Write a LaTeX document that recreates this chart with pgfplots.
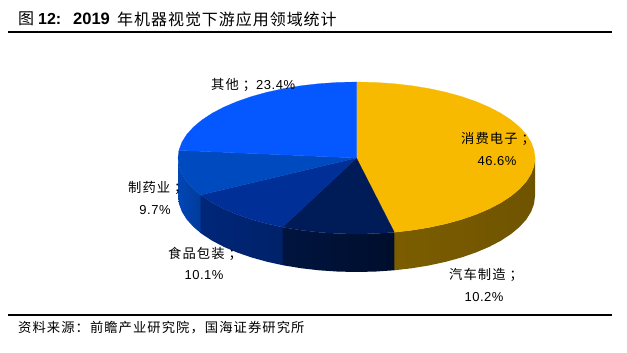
\documentclass[border=0pt]{standalone}
\usepackage{pgfplots}
\pgfplotsset{compat=1.18}
\usepackage{fontspec}
\setmainfont{Liberation Sans}
\newfontfamily\cjk[LetterSpace=8]{Noto Sans CJK SC}
\newfontfamily\cjkt[LetterSpace=6]{Noto Sans CJK SC}
\newfontfamily\lat[LetterSpace=4]{Liberation Sans}
\definecolor{cYel}{HTML}{F7BA00}
\definecolor{cNavy}{HTML}{001C58}
\definecolor{cDark}{HTML}{003097}
\definecolor{cMid}{HTML}{004AC0}
\definecolor{cBlue}{HTML}{0558FF}
\newcommand{\lab}[1]{{\fontsize{13.3}{15}\selectfont\cjk #1}}
\newcommand{\num}[1]{{\fontsize{13}{15}\selectfont\lat #1}}
\newcommand{\fsc}{\hspace{4pt}^^^^ff1b}
\newcommand{\fcl}{^^^^ff1a}
\newcommand{\fcm}{^^^^ff0c}
\begin{document}
\begin{tikzpicture}[x=1pt,y=1pt]
\path[use as bounding box,fill=white] (0,0) rectangle (627,353);
\begin{axis}[
  at={(0pt,0pt)},anchor=south west,scale only axis,width=627pt,height=353pt,
  xmin=-1.9972,xmax=1.5154,ymin=-2.5658,ymax=2.0789,hide axis,clip=false]
% side walls
\addplot[draw=none,left color=cYel!50!black,middle color=cYel!40!black,right color=cYel!45!black] coordinates {
(1,0)(.9945,-.1045)(.9781,-.2079)(.9511,-.309)(.9135,-.4067)(.866,-.5)(.809,-.5878)(.7431,-.6691)(.6691,-.7431)(.5878,-.809)(.5,-.866)(.4067,-.9135)(.309,-.9511)(.212,-.9773)
(.212,-1.4773)(.309,-1.4511)(.4067,-1.4135)(.5,-1.366)(.5878,-1.309)(.6691,-1.2431)(.7431,-1.1691)(.809,-1.0878)(.866,-1)(.9135,-.9067)(.9511,-.809)(.9781,-.7079)(.9945,-.6045)(1,-.5)} --cycle;
\addplot[draw=none,left color=cNavy!72!black,middle color=cNavy!58!black,right color=cNavy!50!black] coordinates {
(.212,-.9773)(.2079,-.9781)(.1045,-.9945)(0,-1)(-.1045,-.9945)(-.2079,-.9781)(-.309,-.9511)(-.4067,-.9135)(-.4144,-.9101)
(-.4144,-1.4101)(-.4067,-1.4135)(-.309,-1.4511)(-.2079,-1.4781)(-.1045,-1.4945)(0,-1.5)(.1045,-1.4945)(.2079,-1.4781)(.212,-1.4773)} --cycle;
\addplot[draw=none,left color=cDark!80!black,middle color=cDark!72!black,right color=cDark!70!black] coordinates {
(-.4144,-.9101)(-.5,-.866)(-.5878,-.809)(-.6691,-.7431)(-.7431,-.6691)(-.809,-.5878)(-.866,-.5)(-.8735,-.4868)
(-.8735,-.9868)(-.866,-1)(-.809,-1.0878)(-.7431,-1.1691)(-.6691,-1.2431)(-.5878,-1.309)(-.5,-1.366)(-.4144,-1.4101)} --cycle;
\addplot[draw=none,left color=cMid!95!black,right color=cMid!80!black] coordinates {
(-.8735,-.4868)(-.9135,-.4067)(-.9511,-.309)(-.9781,-.2079)(-.9945,-.1045)(-1,0)
(-1,-.5)(-.9945,-.6045)(-.9781,-.7079)(-.9511,-.809)(-.9135,-.9067)(-.8735,-.9868)} --cycle;
% top face
\addplot[fill=cYel,draw=cYel,line width=.2pt] coordinates {
(0,0)(0,1)(.1045,.9945)(.2079,.9781)(.309,.9511)(.4067,.9135)(.5,.866)(.5878,.809)(.6691,.7431)(.7431,.6691)(.809,.5878)(.866,.5)(.9135,.4067)(.9511,.309)(.9781,.2079)(.9945,.1045)(1,0)
(.9945,-.1045)(.9781,-.2079)(.9511,-.309)(.9135,-.4067)(.866,-.5)(.809,-.5878)(.7431,-.6691)(.6691,-.7431)(.5878,-.809)(.5,-.866)(.4067,-.9135)(.309,-.9511)(.212,-.9773)} --cycle;
\addplot[fill=cNavy,draw=cNavy,line width=.2pt] coordinates {
(0,0)(.212,-.9773)(.1045,-.9945)(0,-1)(-.1045,-.9945)(-.2079,-.9781)(-.309,-.9511)(-.4067,-.9135)(-.4144,-.9101)} --cycle;
\addplot[fill=cDark,draw=cDark,line width=.2pt] coordinates {
(0,0)(-.4144,-.9101)(-.5,-.866)(-.5878,-.809)(-.6691,-.7431)(-.7431,-.6691)(-.809,-.5878)(-.866,-.5)(-.8735,-.4868)} --cycle;
\addplot[fill=cMid,draw=cMid,line width=.2pt] coordinates {
(0,0)(-.8735,-.4868)(-.9135,-.4067)(-.9511,-.309)(-.9781,-.2079)(-.9945,-.1045)(-1,0)(-.995,.1004)} --cycle;
\addplot[fill=cBlue,draw=cBlue,line width=.2pt] coordinates {
(0,0)(-.995,.1004)(-.9781,.2079)(-.9511,.309)(-.9135,.4067)(-.866,.5)(-.809,.5878)(-.7431,.6691)(-.6691,.7431)(-.5878,.809)(-.5,.866)(-.4067,.9135)(-.309,.9511)(-.2079,.9781)(-.1045,.9945)(0,1)} --cycle;
\end{axis}
% rules
\draw[line width=1.2pt] (8,321) -- (612,321);
\draw[line width=1.2pt] (8,38) -- (612,38);
% title and source
\node[anchor=west,inner sep=0pt] at (18,334) {\fontsize{16}{18}\selectfont\cjkt 图};
\node[anchor=west,inner sep=0pt] at (38,334) {\fontsize{16}{18}\selectfont\textbf{12:}};
\node[anchor=west,inner sep=0pt] at (73,334) {\fontsize{16.5}{18}\selectfont\textbf{2019}};
\node[anchor=west,inner sep=0pt] at (117,334) {\fontsize{16}{18}\selectfont\cjkt 年机器视觉下游应用领域统计};
\node[anchor=west,inner sep=0pt] at (18,25) {\fontsize{13.3}{15}\selectfont\cjk 资料来源\fcl{}前瞻产业研究院\fcm{}国海证券研究所};
% labels
\node[anchor=west,inner sep=0pt] at (211,268) {\lab{其他\fsc{}}\num{23.4\%}};
\node[anchor=west,inner sep=0pt] at (461,214) {\lab{消费电子\fsc{}}};
\node[inner sep=0pt] at (497,192) {\num{46.6\%}};
\node[anchor=west,inner sep=0pt] at (128,165) {\lab{制药业\fsc{}}};
\node[inner sep=0pt] at (155,143) {\num{9.7\%}};
\node[anchor=west,inner sep=0pt] at (168,99) {\lab{食品包装\fsc{}}};
\node[inner sep=0pt] at (204,78) {\num{10.1\%}};
\node[anchor=west,inner sep=0pt] at (449,78) {\lab{汽车制造\fsc{}}};
\node[inner sep=0pt] at (484,56) {\num{10.2\%}};
\end{tikzpicture}
\end{document}
